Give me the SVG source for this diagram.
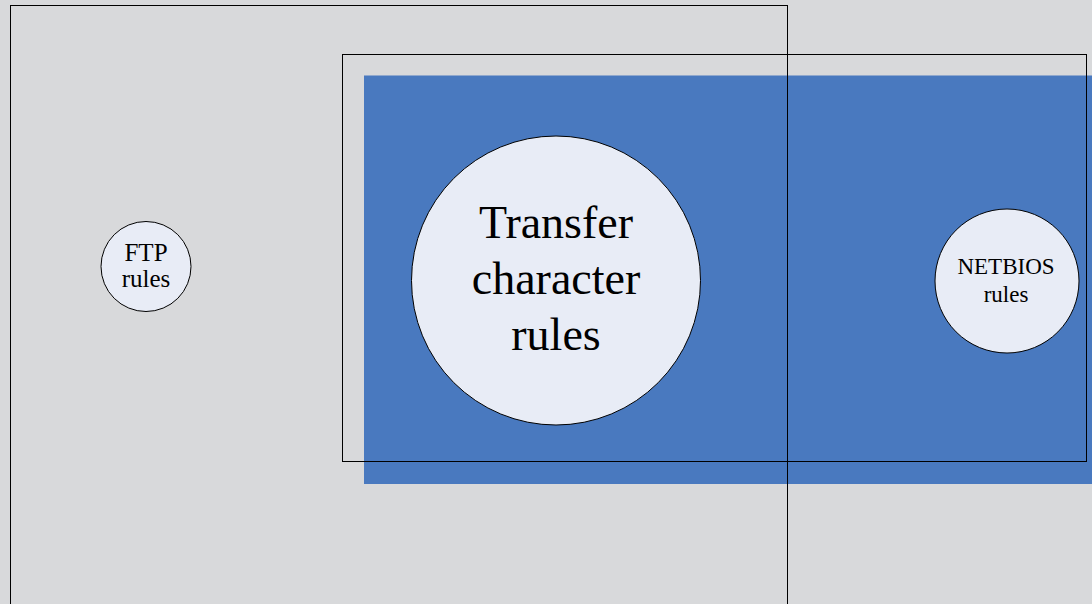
<svg xmlns="http://www.w3.org/2000/svg" width="1092" height="604" viewBox="0 0 1092 604">
  <style>
    .frame { fill: none; stroke: #000; stroke-width: 1; }
    .node { fill: #e8ecf6; stroke: #000; stroke-width: 1; }
    .lbl { font-family: "Liberation Serif", "Times New Roman", serif; fill: #000; text-anchor: middle; }
  </style>
  <rect x="0" y="0" width="1092" height="604" fill="#d8d9db"/>
  <g id="area-blue">
    <rect x="364" y="75.5" width="740" height="408.5" fill="#4979bf"/>
  </g>
  <g id="frame-outer">
    <rect class="frame" x="10.5" y="5.5" width="777" height="700"/>
  </g>
  <g id="frame-inner">
    <rect class="frame" x="342.5" y="54.5" width="744" height="407"/>
  </g>
  <g id="node-ftp">
    <circle class="node" cx="146" cy="266.5" r="45"/>
    <text class="lbl" x="146" y="261" font-size="25">FTP</text>
    <text class="lbl" x="146" y="287" font-size="25">rules</text>
  </g>
  <g id="node-transfer">
    <circle class="node" cx="556" cy="280.5" r="144.5"/>
    <text class="lbl" x="556" y="238" font-size="46">Transfer</text>
    <text class="lbl" x="556" y="294" font-size="46">character</text>
    <text class="lbl" x="556" y="350" font-size="46">rules</text>
  </g>
  <g id="node-netbios">
    <circle class="node" cx="1007" cy="281" r="72"/>
    <text class="lbl" x="1006" y="274" font-size="23">NETBIOS</text>
    <text class="lbl" x="1006" y="302" font-size="23">rules</text>
  </g>
</svg>
